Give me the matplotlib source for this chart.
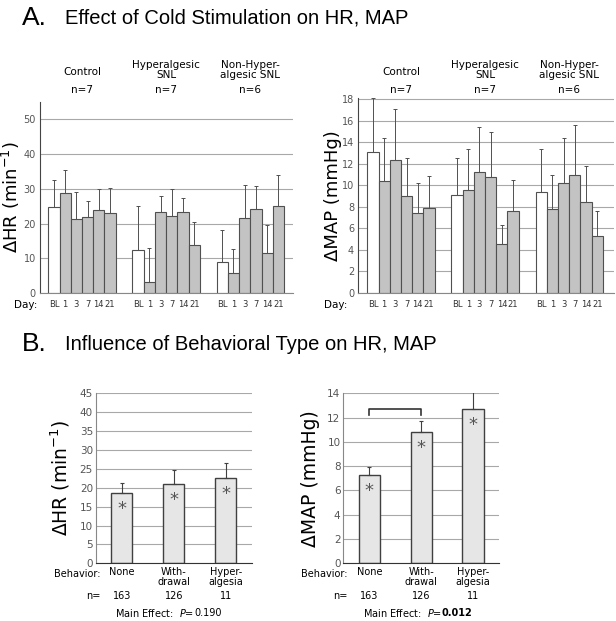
import matplotlib.pyplot as plt
import matplotlib.transforms as mtransforms
import numpy as np

# ---- data: panel A (cold stimulation by day) ----
days = ["BL", "1", "3", "7", "14", "21"]
groups = ["Control", "Hyperalgesic\nSNL", "Non-Hyper-\nalgesic SNL"]
group_n = ["n=7", "n=7", "n=6"]

hr_control = [24.8, 28.8, 21.3, 22.0, 24.0, 23.0]
hr_control_sem = [7.7, 6.7, 7.7, 4.5, 6.0, 7.2]
hr_hyper = [12.5, 3.2, 23.3, 22.2, 23.3, 13.9]
hr_hyper_sem = [12.5, 9.8, 4.5, 7.8, 4.2, 6.6]
hr_nonhyper = [9.0, 5.7, 21.6, 24.3, 11.6, 25.0]
hr_nonhyper_sem = [9.2, 6.9, 9.4, 6.5, 8.1, 9.0]

map_control = [13.1, 10.4, 12.4, 9.0, 7.4, 7.9]
map_control_sem = [5.0, 4.0, 4.7, 3.5, 2.8, 3.0]
map_hyper = [9.1, 9.6, 11.2, 10.8, 4.5, 7.6]
map_hyper_sem = [3.4, 3.8, 4.2, 4.2, 1.8, 2.9]
map_nonhyper = [9.4, 7.8, 10.2, 11.0, 8.4, 5.3]
map_nonhyper_sem = [4.0, 3.2, 4.2, 4.6, 3.4, 2.3]

# ---- data: panel B (behavioral type) ----
behaviors = ["None", "With-\ndrawal", "Hyper-\nalgesia"]
behavior_n = ["163", "126", "11"]
hr_behavior = [18.6, 21.0, 22.6]
hr_behavior_sem = [2.7, 3.6, 3.9]
map_behavior = [7.3, 10.8, 12.7]
map_behavior_sem = [0.65, 0.9, 2.2]

EDGE = "#505050"
GRID = "#a8a8a8"
TICKC = "#555555"
plt.rcParams['font.family'] = ['DejaVu Sans']

fig = plt.figure(figsize=(6.16, 6.21), dpi=100)


def day_panel(ax, series, sems, ymax, yticks, ylabel, label_x, day_x):
    group_gap = 7.5
    centers = []
    for g, (vals, err) in enumerate(zip(series, sems)):
        x = g * group_gap + np.arange(len(days))
        colors = ["white"] + ["#c3c3c3"] * (len(days) - 1)
        ax.bar(x, vals, width=1.0, align="edge", color=colors,
               edgecolor=EDGE, linewidth=0.8, zorder=2)
        ax.errorbar(x + 0.5, vals, yerr=[np.zeros(len(vals)), err], fmt="none",
                    ecolor=EDGE, elinewidth=0.7, capsize=1.5, capthick=0.7,
                    zorder=3)
        centers.extend(x + 0.5)
    ax.set_xticks(centers)
    ax.set_xticklabels(days * len(series), fontsize=6, color="#333333")
    ax.set_ylim(0, ymax)
    ax.set_yticks(yticks)
    ax.tick_params(axis="y", length=0, labelsize=7, labelcolor=TICKC, pad=3)
    ax.tick_params(axis="x", length=0, pad=5)
    ax.yaxis.grid(True, color=GRID, linewidth=0.8, zorder=0)
    ax.set_axisbelow(True)
    for s in ["top", "right"]:
        ax.spines[s].set_visible(False)
    ax.spines["left"].set_color("#444444")
    ax.spines["bottom"].set_color("#888888")
    ax.set_ylabel(ylabel, fontsize=13)
    ax.yaxis.set_label_coords(label_x, 0.5)
    trans = mtransforms.blended_transform_factory(ax.transData, fig.transFigure)
    for g in range(len(series)):
        cx = g * group_gap + 3
        ax.text(cx, 1 - 90 / 621, group_n[g], transform=trans, ha="center",
                va="center", fontsize=7.5)
        name_y = 72 if "\n" not in groups[g] else 70
        ax.text(cx, 1 - name_y / 621, groups[g], transform=trans, ha="center",
                va="center", fontsize=7.5, linespacing=1.05)
    fig.text(day_x, 1 - 305 / 621, "Day:", ha="center", va="center", fontsize=7.5)


ax1 = fig.add_axes([0.0649, 0.5282, 0.4107, 0.3075])
day_panel(ax1, [hr_control, hr_hyper, hr_nonhyper],
          [hr_control_sem, hr_hyper_sem, hr_nonhyper_sem],
          55, range(0, 51, 10), "ΔHR (min$^{-1}$)", -0.071, 26 / 616)
ax1.set_xlim(-0.74, 21.8)

ax2 = fig.add_axes([0.5817, 0.5287, 0.4151, 0.3130])
day_panel(ax2, [map_control, map_hyper, map_nonhyper],
          [map_control_sem, map_hyper_sem, map_nonhyper_sem],
          18.1, range(0, 19, 2), "ΔMAP (mmHg)", -0.064, 336 / 616)
ax2.set_xlim(-0.8, 22.0)


def behavior_panel(ax, vals, err, ymax, yticks, ylabel, label_x, pval, pbold):
    x = np.arange(len(vals))
    ax.bar(x, vals, width=0.41, color="#e6e6e6", edgecolor="#404040",
           linewidth=1.0, zorder=2)
    ax.errorbar(x, vals, yerr=[np.zeros(len(vals)), err], fmt="none",
                ecolor="#404040", elinewidth=0.8, capsize=1.5, capthick=0.8,
                zorder=3)
    for xi, v in zip(x, vals):
        ax.text(xi, v - 0.095 * ymax, "*", ha="center", va="center",
                fontsize=13, color="#555555", zorder=4)
    ax.set_xlim(-0.5, 2.5)
    ax.set_ylim(0, ymax)
    ax.set_yticks(yticks)
    ax.set_xticks([])
    ax.tick_params(axis="y", length=0, labelsize=7.5, labelcolor=TICKC, pad=2)
    ax.yaxis.grid(True, color=GRID, linewidth=0.8, zorder=0)
    ax.set_axisbelow(True)
    for s in ["top", "right"]:
        ax.spines[s].set_visible(False)
    ax.spines["left"].set_color("#888888")
    ax.spines["bottom"].set_color("#333333")
    ax.set_ylabel(ylabel, fontsize=13.5)
    ax.yaxis.set_label_coords(label_x, 0.5)
    trans = mtransforms.blended_transform_factory(ax.transData, fig.transFigure)
    ax.text(-0.41, 1 - 574 / 621, "Behavior:", transform=trans, ha="right",
            va="center", fontsize=7)
    ax.text(-0.41, 1 - 596 / 621, "n=", transform=trans, ha="right",
            va="center", fontsize=7)
    for xi, lab, n in zip(x, behaviors, behavior_n):
        ax.text(xi, 1 - 567 / 621, lab, transform=trans, ha="center",
                va="top", fontsize=7, linespacing=1.05)
        ax.text(xi, 1 - 596 / 621, n, transform=trans, ha="center",
                va="center", fontsize=7)
    ax.text(1.4, 1 - 613 / 621, "Main Effect:  $\\it{P}$=", transform=trans,
            ha="right", va="center", fontsize=7)
    ax.text(1.4, 1 - 613 / 621, pval, transform=trans, ha="left", va="center",
            fontsize=7, fontweight="bold" if pbold else "normal")


ax3 = fig.add_axes([0.1554, 0.0929, 0.2532, 0.2738])
behavior_panel(ax3, hr_behavior, hr_behavior_sem, 45, range(0, 46, 5),
               "ΔHR (min$^{-1}$)", -0.152, "0.190", False)

ax4 = fig.add_axes([0.5573, 0.0929, 0.2528, 0.2738])
behavior_panel(ax4, map_behavior, map_behavior_sem, 14, range(0, 15, 2),
               "ΔMAP (mmHg)", -0.150, "0.012", True)
# significance bracket None vs Withdrawal
ax4.plot([0, 0, 1, 1], [12.25, 12.7, 12.7, 12.25], color="#333333",
         linewidth=1.2, clip_on=False)

# ---- panel titles ----
fig.text(22 / 616, 1 - 25 / 621, "A.", fontsize=19, family="Liberation Sans",
         va="baseline")
fig.text(65 / 616, 1 - 23 / 621, "Effect of Cold Stimulation on HR, MAP",
         fontsize=14.5, family="Liberation Sans", va="baseline")
fig.text(22 / 616, 1 - 351 / 621, "B.", fontsize=19, family="Liberation Sans",
         va="baseline")
fig.text(65 / 616, 1 - 350 / 621, "Influence of Behavioral Type on HR, MAP",
         fontsize=14.5, family="Liberation Sans", va="baseline")

fig.savefig("out.png", dpi=100)
